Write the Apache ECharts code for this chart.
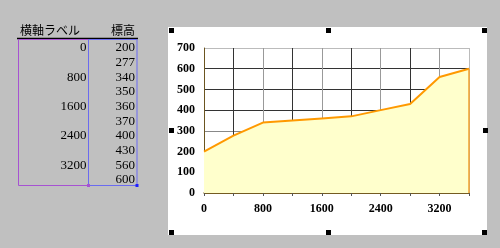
<!DOCTYPE html>
<html>
<head>
<meta charset="utf-8">
<script src="https://cdn.jsdelivr.net/npm/echarts@6/dist/echarts.min.js"></script>
<style>
  html, body { margin: 0; padding: 0; background: #c0c0c0; }
  #main { width: 500px; height: 248px; }
</style>
</head>
<body>
<div id="main"></div>
<script>
// 横軸 (距離) と標高
const distances = ['0', '400', '800', '1200', '1600', '2000', '2400', '2800', '3200', '3600'];
const axisLabels = ['0', '', '800', '', '1600', '', '2400', '', '3200', ''];
const elevation = [200, 277, 340, 350, 360, 370, 400, 430, 560, 600];
const yMin = 0, yMax = 700, yStep = 100;

const serif = '"Liberation Serif", "DejaVu Serif", serif';
const purple = '#a652d2';
const blue = '#6b6bf0';

// 左側の表 (セルの内容)
const table = [];
table.push({
  type: 'text', left: 20, top: 24, z: 10,
  style: { text: '横軸ラベル', font: '12px "Noto Sans CJK JP"', fill: '#000' }
});
table.push({
  type: 'text', left: 111, top: 24, z: 10,
  style: { text: '標高', font: '12px "Noto Sans CJK JP"', fill: '#000' }
});
table.push({
  type: 'line', z: 10,
  shape: { x1: 17, y1: 38.5, x2: 138, y2: 38.5 },
  style: { stroke: '#000', lineWidth: 1.5 }
});
table.push({
  type: 'rect', z: 10,
  shape: { x: 18.5, y: 39.5, width: 70, height: 146 },
  style: { fill: null, stroke: purple, lineWidth: 1 }
});
table.push({
  type: 'rect', z: 11,
  shape: { x: 88.5, y: 39.5, width: 48.5, height: 146 },
  style: { fill: null, stroke: blue, lineWidth: 1 }
});
table.push({ type: 'rect', z: 12, shape: { x: 87, y: 184, width: 3, height: 3 }, style: { fill: purple } });
table.push({ type: 'rect', z: 12, shape: { x: 135.5, y: 184, width: 3, height: 3 }, style: { fill: '#2020ff' } });
elevation.forEach(function (v, i) {
  const y = 47.7 + i * 14.7;
  if (axisLabels[i] !== '') {
    table.push({
      type: 'text', z: 10, x: 86.5, y: y,
      style: { text: axisLabels[i], font: '13px ' + serif, fill: '#000', align: 'right', verticalAlign: 'middle' }
    });
  }
  table.push({
    type: 'text', z: 10, x: 135, y: y,
    style: { text: String(v), font: '13px ' + serif, fill: '#000', align: 'right', verticalAlign: 'middle' }
  });
});

// グラフ枠と選択ハンドル
const frame = [{
  type: 'rect', z: -10,
  shape: { x: 168, y: 27, width: 319, height: 208 },
  style: { fill: '#fff' }
}];
[[169, 28], [326, 28], [482, 28], [169, 128], [483, 128], [169, 230], [326, 230], [482, 230]].forEach(function (p) {
  frame.push({ type: 'rect', z: 20, shape: { x: p[0], y: p[1], width: 5, height: 5 }, style: { fill: '#000' } });
});

const myChart = echarts.init(document.getElementById('main'));
const option = {
  backgroundColor: '#c0c0c0',
  animation: false,
  graphic: { elements: frame.concat(table) },
  grid: { left: 204, right: 31, top: 48, bottom: 55, containLabel: false },
  xAxis: {
    type: 'category',
    data: distances,
    boundaryGap: false,
    axisLine: { lineStyle: { color: '#8a6a1e', width: 1.5 } },
    axisTick: { show: true, interval: 0, length: 3, lineStyle: { color: '#555' } },
    axisLabel: {
      interval: 0, margin: 10,
      color: '#000', fontFamily: serif, fontWeight: 'bold', fontSize: 12,
      formatter: function (v, i) { return axisLabels[i]; }
    },
    splitLine: { show: true, interval: 0, lineStyle: { color: ['#333', '#333', '#999', '#333', '#999', '#333', '#999', '#333', '#999', '#bbb'], width: 1 } }
  },
  yAxis: {
    type: 'value',
    min: yMin, max: yMax, interval: yStep,
    axisLine: { show: true, lineStyle: { color: '#6b5520', width: 1 } },
    axisTick: { show: false },
    axisLabel: { margin: 9, color: '#000', fontFamily: serif, fontWeight: 'bold', fontSize: 12 },
    splitLine: { lineStyle: { color: ['#333', '#333', '#333', '#888', '#333', '#333', '#333', '#bbb'], width: 1 } }
  },
  series: [{
    type: 'line',
    data: elevation,
    symbol: 'none',
    lineStyle: { color: '#ff9900', width: 2 },
    areaStyle: { color: '#ffffcc', opacity: 1 },
    markLine: {
      silent: true,
      symbol: 'none',
      label: { show: false },
      lineStyle: { color: '#f0a030', type: 'solid', width: 1.5 },
      data: [[{ coord: [distances.length - 1, yMin] }, { coord: [distances.length - 1, elevation[elevation.length - 1]] }]]
    }
  }]
};
myChart.setOption(option);
window.addEventListener('resize', function () { myChart.resize(); });
</script>
</body>
</html>
